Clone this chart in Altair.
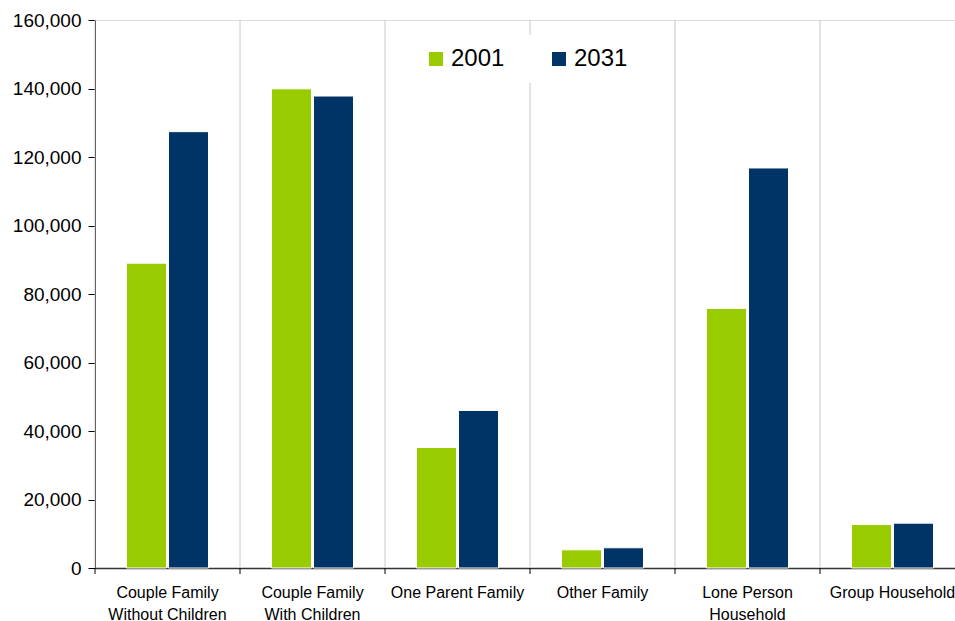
import altair as alt
import pandas as pd

# Household types (line breaks split the axis labels)
categories = [
    "Couple Family\nWithout Children",
    "Couple Family\nWith Children",
    "One Parent Family",
    "Other Family",
    "Lone Person\nHousehold",
    "Group Household",
]
years = ["2001", "2031"]
households_2001 = [89000, 139900, 35200, 5300, 75800, 12700]
households_2031 = [127400, 137800, 46000, 5900, 116800, 13100]
y_ticks = [0, 20000, 40000, 60000, 80000, 100000, 120000, 140000, 160000]
year_colors = ["#99CC00", "#003366"]

rows = []
for cat, v1, v2 in zip(categories, households_2001, households_2031):
    rows.append({"category": cat, "year": years[0], "households": v1})
    rows.append({"category": cat, "year": years[1], "households": v2})
df = pd.DataFrame(rows)
bounds = pd.DataFrame({"category": categories})

FONT = "Liberation Sans"

x_scale = alt.Scale(domain=categories, range=[0, 870], paddingInner=0, paddingOuter=0)
y_scale = alt.Scale(domain=[0, 160000], nice=False, zero=True)

x_axis = alt.Axis(
    title=None, labelAngle=0, ticks=False, grid=False,
    labelExpr="split(datum.label, '\\n')",
    labelFontSize=16, labelLineHeight=22, labelPadding=16,
    labelColor="#000000", domainColor="#333333", domainWidth=1.5,
    labelFont=FONT,
)
y_axis = alt.Axis(
    title=None, values=y_ticks,
    labelExpr="format(datum.value, ',')",
    labelFontSize=19, labelColor="#000000", labelFont=FONT,
    tickSize=7, tickColor="#000000", labelPadding=7,
    domainColor="#000000", gridColor="#c8c8c8", gridWidth=1,
)

x_enc = alt.X("category:N", scale=x_scale, sort=categories, axis=x_axis)
y_enc = alt.Y("households:Q", scale=y_scale, axis=y_axis)

# Vertical separators between household types
vgrid = alt.Chart(bounds).mark_rule(color="#c8c8c8", strokeWidth=1).encode(
    x=alt.X("category:N", scale=x_scale, sort=categories, axis=x_axis, bandPosition=0),
    y=alt.datum(0, scale=y_scale, axis=y_axis),
    y2=alt.datum(160000),
)

bars = alt.Chart(df).mark_bar(stroke="white", strokeWidth=1).encode(
    x=x_enc,
    xOffset=alt.XOffset("year:N", sort=years,
                        scale=alt.Scale(paddingInner=0.0476, paddingOuter=0.75)),
    y=y_enc,
    color=alt.Color(
        "year:N",
        scale=alt.Scale(domain=years, range=year_colors),
        legend=alt.Legend(
            title=None, orient="none", legendX=317, legendY=15,
            direction="horizontal", symbolType="square", symbolSize=196,
            symbolStrokeWidth=0, labelFontSize=24, labelFont=FONT,
            labelColor="#000000", labelOffset=3, columnPadding=42,
            fillColor="white", padding=12,
        ),
    ),
)

# Tick marks under the category axis at each boundary
xticks = alt.Chart(bounds).mark_rule(color="#000000", strokeWidth=1).encode(
    x=alt.X("category:N", scale=x_scale, sort=categories, axis=x_axis, bandPosition=0),
    y=alt.value(548),
    y2=alt.value(554),
)

chart = (
    alt.layer(vgrid, bars, xticks)
    .properties(
        width=860,
        height=548,
        autosize=alt.AutoSizeParams(type="none"),
        padding={"left": 95, "top": 20, "right": 0, "bottom": 53},
    )
    .configure_view(stroke=None)
    .configure(font=FONT, background="white")
)

chart.save("out.html", embed_options={"renderer": "svg", "actions": False})
